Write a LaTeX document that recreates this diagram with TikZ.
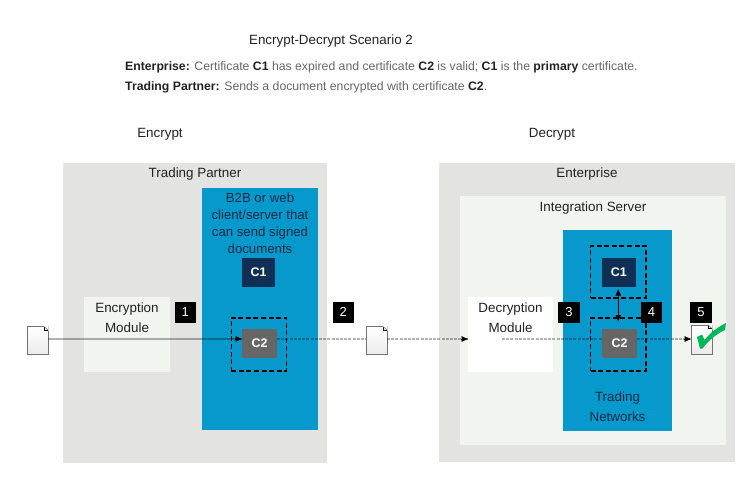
\documentclass[tikz,border=0pt]{standalone}
\usepackage{fontspec}
\setmainfont{Liberation Sans}
\usetikzlibrary{positioning, arrows.meta}

\definecolor{panelgrey}{HTML}{E3E3E2}
\definecolor{palegrey}{HTML}{F2F4F0}
\definecolor{netblue}{HTML}{0899CC}
\definecolor{certnavy}{HTML}{0F2F55}
\definecolor{certgrey}{HTML}{666666}
\definecolor{inktext}{HTML}{222222}
\definecolor{bluetext}{HTML}{0B2B45}
\definecolor{greytext}{HTML}{666666}
\definecolor{tickgreen}{HTML}{00B856}

\tikzset{
    area/.style={anchor=north west, inner sep=0pt, outer sep=0pt},
    caption/.style={inner sep=0pt, outer sep=0pt, text=inktext, font=\fontsize{13.4}{20}\selectfont, align=center},
    bluecaption/.style={caption, text=bluetext},
    certbox/.style={inner sep=0pt, outer sep=0pt, text=white, font=\fontsize{12.5}{14}\selectfont\bfseries},
    dashbox/.style={draw=black, line width=1.3pt, dash pattern=on 5pt off 2.6pt, inner sep=0pt, outer sep=0pt, minimum width=55.5pt},
    badge/.style={fill=black, text=white, inner sep=0pt, outer sep=0pt, minimum width=21.5pt, minimum height=20.5pt, font=\fontsize{13}{14}\selectfont},
    docpage/.style={draw=black!55, line width=.6pt, top color=white, bottom color=black!8, inner sep=0pt, outer sep=0pt, minimum width=21pt, minimum height=28pt},
    flow/.style={draw=black, draw opacity=.3, line width=1.7pt},
    flowdash/.style={flow, line width=1.3pt, dash pattern=on 3pt off 1.2pt},
    tipend/.style={-{Latex[length=7pt, width=6pt]}, black, line width=.6pt},
    prose/.style={anchor=west, inner sep=0pt, text=greytext, font=\fontsize{12.25}{14}\selectfont}
}
\newcommand{\dk}[1]{\textcolor{inktext}{\bfseries #1}}

\begin{document}
\begin{tikzpicture}[x=1pt, y=-1pt]
    \useasboundingbox (0,0) rectangle (742,491);

    % heading
    \node[caption] (title) at (331,41) {Encrypt-Decrypt Scenario 2};
    \node[prose] (line1) at (125,67) {\dk{Enterprise:} Certificate \dk{C1} has expired and certificate \dk{C2} is valid; \dk{C1} is the \dk{primary} certificate.};
    \node[prose] (line2) at (125,87.5) {\dk{Trading Partner:} Sends a document encrypted with certificate \dk{C2}.};
    \node[caption] (enchead) at (160,134) {Encrypt};
    \node[caption] (dechead) at (552,134) {Decrypt};

    % trading partner
    \node[area, fill=panelgrey, minimum width=264pt, minimum height=300pt] (tppanel) at (63,163) {};
    \node[caption, below=4.5pt of tppanel.north] (tptext) {Trading Partner};
    \node[area, fill=palegrey, minimum width=86pt, minimum height=75pt] (encmod) at (84,297) {};
    \node[caption, below=5.5pt of encmod.north] (enctext) {Encryption\\Module};
    \node[area, fill=netblue, minimum width=116pt, minimum height=242pt] (b2bbox) at (202,188) {};
    \node[bluecaption, below=4.5pt of b2bbox.north, font=\fontsize{13.2}{17}\selectfont] (b2btext) {B2B or web\\client/server that\\can send signed\\documents};
    \node[area, certbox, fill=certnavy, minimum width=33pt, minimum height=29pt, align=center] (c1left) at (242,258) {C1};
    \node[dashbox, minimum height=53pt] (c2leftdash) at (259,344.5) {};

    % enterprise
    \node[area, fill=panelgrey, minimum width=296pt, minimum height=299pt] (entpanel) at (439,163) {};
    \node[caption, below=4.5pt of entpanel.north] (enttext) {Enterprise};
    \node[area, fill=palegrey, minimum width=266pt, minimum height=249pt] (ispanel) at (460,196) {};
    \node[caption, below=6pt of ispanel.north] (istext) {Integration Server};
    \node[area, fill=white, minimum width=85pt, minimum height=75pt] (decmod) at (468,297) {};
    \node[caption, below=5.5pt of decmod.north] (dectext) {Decryption\\Module};
    \node[area, fill=netblue, minimum width=109pt, minimum height=201pt] (tnbox) at (563,230) {};
    \node[bluecaption, above=9pt of tnbox.south] (tntext) {Trading\\Networks};
    \node[dashbox, minimum height=52pt] (c1rightdash) at (618.25,272) {};
    \node[dashbox, minimum height=53pt] (c2rightdash) at (618.25,344.5) {};

    % documents
    \node[docpage] (doc1) at (37.5,340.5) {};
    \node[docpage] (doc2) at (376.5,340.5) {};
    \node[docpage, minimum height=29pt] (doc3) at (701.5,339.5) {};
    \foreach \d in {doc1, doc2, doc3} {
        \fill[white] (\d.north east) ++(-4.5,-.5) -- ++(5,0) -- ++(0,5) -- cycle;
        \draw[black, line width=.6pt] (\d.north east) ++(-4,0) -- ++(0,3.5) -- ++(4,0);
        \draw[black!55, line width=.6pt] (\d.north east) ++(-4,0) -- ++(4,3.5);
    }

    % certificates sit over the flow
    \coordinate (flowrow) at (0,339);
    \coordinate (decstart) at (502,339);
    \node[certbox, fill=certgrey, minimum width=35pt, minimum height=29pt] (c2left) at (259.5,343.5) {C2};
    \node[certbox, fill=certnavy, minimum width=33.5pt, minimum height=29pt] (c1right) at (618.75,272.5) {C1};
    \node[certbox, fill=certgrey, minimum width=35pt, minimum height=29pt] (c2right) at (619.5,343.5) {C2};

    \draw[flow] (doc1.east |- flowrow) -- (c2left.west |- flowrow);
    \draw[flowdash] (c2left.east |- flowrow) -- (doc2.west |- flowrow);
    \draw[flowdash] (doc2.east |- flowrow) -- (decmod.west |- flowrow);
    \draw[flowdash] (decstart) -- (c2right.west |- flowrow);
    \draw[flowdash] (c2right.east |- flowrow) -- (doc3.west |- flowrow);
    \foreach \t in {c2left, decmod, doc3} {
        \draw[tipend, shorten >=-.5pt] (\t.west |- flowrow) ++(-7,0) -- (\t.west |- flowrow);
    }
    \draw[{Latex[length=7pt, width=6pt]}-{Latex[length=7pt, width=6pt]}, black, line width=1pt, shorten <=1.5pt, shorten >=-4pt] (c1right.south -| c1rightdash.center) -- (c2rightdash.north);

    % steps
    \node[badge] (badge1) at (185.25,312.25) {1};
    \node[badge, right=136.5pt of badge1] (badge2) {2};
    \node[badge] (badge3) at (569,312.25) {3};
    \node[badge, right=61pt of badge3] (badge4) {4};
    \node[badge, right=28pt of badge4] (badge5) {5};

    % tick on the checked document
    \fill[tickgreen] (697,337) -- (702,334.5) -- (704.5,340) .. controls (711,332) and (718,327) .. (726,323) -- (725,330) .. controls (716,334) and (708,341) .. (702.5,348.5) -- (700,348.5) -- cycle;
\end{tikzpicture}
\end{document}
